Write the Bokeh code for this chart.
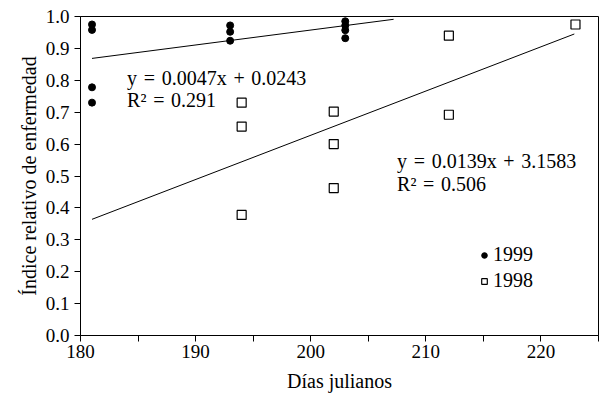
import numpy as np
from bokeh.plotting import figure
from bokeh.models import (FixedTicker, PrintfTickFormatter, Label, Legend,
                          LegendItem, Range1d)
from bokeh.embed import file_html
from bokeh.resources import INLINE

# ---- data ----
dias_1999 = [181, 181, 181, 181, 193, 193, 193, 203, 203, 203, 203]
ind_1999 = [0.975, 0.958, 0.778, 0.730, 0.972, 0.952, 0.924, 0.985, 0.972, 0.957, 0.932]
dias_1998 = [194, 194, 194, 202, 202, 202, 212, 212, 223]
ind_1998 = [0.730, 0.655, 0.378, 0.702, 0.600, 0.462, 0.940, 0.692, 0.975]
trend_x_1999 = [181, 207.2]
trend_x_1998 = [181, 222.9]
eq_1999 = ["y = 0.0047x + 0.0243", "R² = 0.291"]
eq_1998 = ["y = 0.0139x + 3.1583", "R² = 0.506"]
x_major = [180, 190, 200, 210, 220]
x_minor = [185, 195, 205, 215, 225]
y_ticks = [round(0.1 * i, 1) for i in range(11)]

FONT = "Liberation Serif"
SP = "\u2004"  # slightly wider space, as in the original typesetting

p = figure(width=603, height=396, output_backend="svg", toolbar_location=None,
           x_range=Range1d(180, 225), y_range=Range1d(0, 1),
           min_border_left=80, min_border_right=5, min_border_top=16,
           min_border_bottom=61)
p.frame_width = 518
p.frame_height = 319
p.xgrid.visible = False
p.ygrid.visible = False
p.outline_line_color = "black"
p.outline_line_width = 1
p.background_fill_color = "white"
p.border_fill_color = "white"

# axes
p.xaxis.ticker = FixedTicker(ticks=x_major, minor_ticks=x_minor)
p.yaxis.ticker = FixedTicker(ticks=y_ticks, minor_ticks=[])
p.yaxis.formatter = PrintfTickFormatter(format="%.1f")
for ax in (p.xaxis[0], p.yaxis[0]):
    ax.axis_line_color = "black"
    ax.major_tick_line_color = "black"
    ax.minor_tick_line_color = "black"
    ax.major_tick_in = 0
    ax.minor_tick_in = 0
    ax.major_tick_out = 6
    ax.minor_tick_out = 6
    ax.major_label_text_font = FONT
    ax.major_label_text_font_size = "19px"
    ax.major_label_text_color = "black"
    ax.axis_label_text_font = FONT
    ax.axis_label_text_font_style = "normal"
    ax.axis_label_text_font_size = "20px"
    ax.axis_label_text_color = "black"
p.yaxis.minor_tick_out = 0
p.xaxis.axis_label = "Días julianos"
p.yaxis.axis_label = "Índice relativo de enfermedad"
p.xaxis.major_label_standoff = 3
p.yaxis.major_label_standoff = 5
p.xaxis.axis_label_standoff = 9
p.yaxis.axis_label_standoff = 3

# trend lines (least squares fit of the data)
for xs, ys, tx in ((dias_1999, ind_1999, trend_x_1999), (dias_1998, ind_1998, trend_x_1998)):
    m, b = np.polyfit(xs, ys, 1)
    tx = np.array(tx)
    p.line(tx, m * tx + b, line_color="black", line_width=1)

r99 = p.scatter(dias_1999, ind_1999, marker="circle", size=7,
                fill_color="black", line_color="black", line_width=1)
r98 = p.scatter(dias_1998, ind_1998, marker="square", size=9,
                fill_color="white", line_color="black", line_width=1.2)

# equations
def eq_label(x, y, txt):
    p.add_layout(Label(x=x, y=y, text=txt.replace(" ", SP), text_font=FONT,
                       text_font_size="20px", text_baseline="middle",
                       text_color="black"))

eq_label(184.05, 0.808, eq_1999[0])
eq_label(184.05, 0.737, eq_1999[1])
eq_label(207.5, 0.546, eq_1998[0])
eq_label(207.5, 0.474, eq_1998[1])

legend = Legend(items=[LegendItem(label="1999", renderers=[r99]),
                       LegendItem(label="1998", renderers=[r98])],
                location=(397, 43), border_line_alpha=0, background_fill_alpha=0,
                glyph_width=14, glyph_height=22, label_standoff=2, spacing=3,
                padding=0, margin=0, label_text_font=FONT,
                label_text_font_size="20px", label_text_color="black")
p.add_layout(legend)

open("out.html", "w").write(file_html(p, INLINE))
